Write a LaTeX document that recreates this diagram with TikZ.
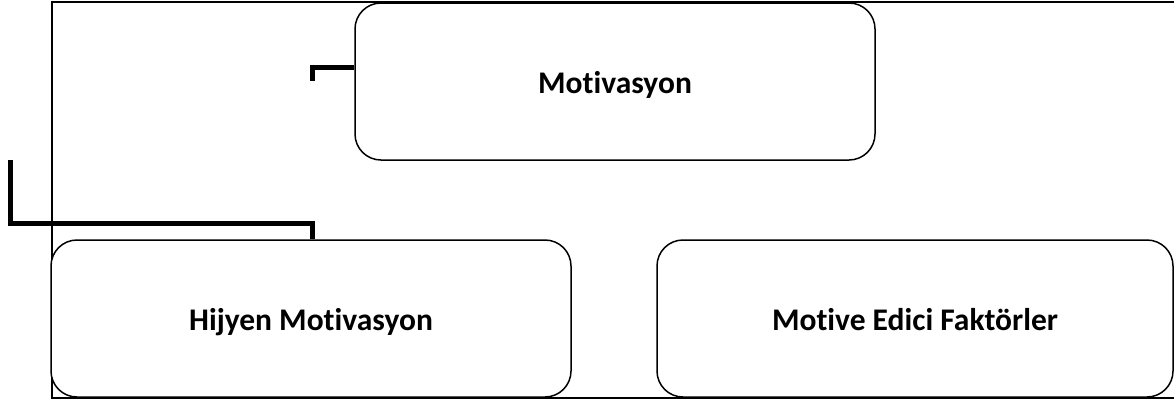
\documentclass[tikz,border=0pt]{standalone}
\usepackage{fontspec}
\setmainfont[Ligatures={NoCommon}]{Carlito}
\begin{document}
\begin{tikzpicture}[x=1pt,y=-1pt,
  box/.style={draw,line width=1.5pt,rounded corners=26pt,fill=white,
    minimum height=157pt,inner sep=0pt,text height=30pt,text depth=7pt,
    font=\fontsize{31.5}{38}\selectfont\bfseries},
  frame/.style={draw,line width=1.6pt},
  link/.style={draw,line width=5pt}]
\useasboundingbox (0,0) rectangle (1174,400);
\clip (0,0) rectangle (1174,400);
% open frame round the chart
\draw[frame] (1180,2) -- (52,2) -- (52,398) -- (1180,398);
% boxes
\node[box,minimum width=520pt] (mot) at (615,81.5) {Motivasyon};
\node[box,minimum width=520pt] (hyg) at (311,318.5) {Hijyen Motivasyon};
\node[box,minimum width=516pt] (fac) at (915,318.5) {Motive Edici Faktörler};
% connector stubs
\coordinate (k1) at (312,67);
\coordinate (k1e) at (312,81);
\draw[link] (k1 -| mot.west) -- (k1) -- (k1e);
\coordinate (k2s) at (10,160);
\coordinate (k2) at (312,223);
\draw[link] (k2s) -- (k2s |- k2) -- (k2) -- (k2 |- hyg.north);
\end{tikzpicture}
\end{document}
